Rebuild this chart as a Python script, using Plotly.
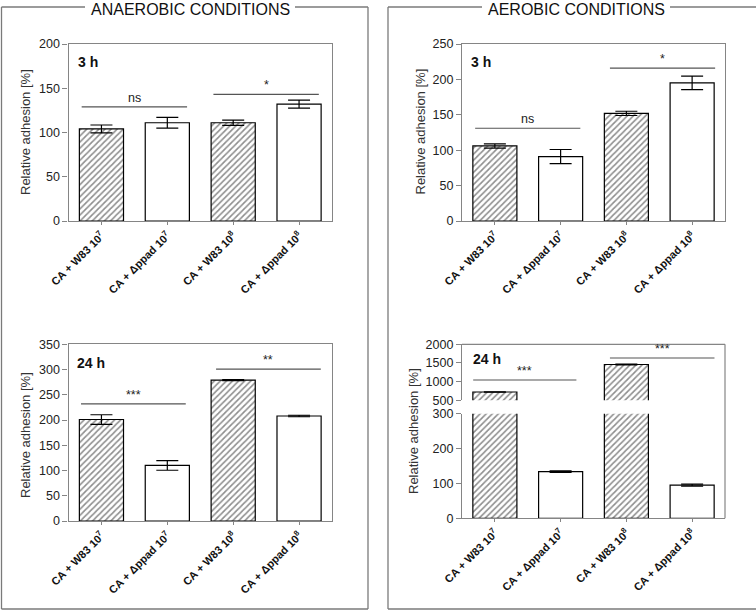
import plotly.graph_objects as go

W, H = 756, 613

groups = ["CA + W83 10<sup>7</sup>", "CA + Δppad 10<sup>7</sup>",
          "CA + W83 10<sup>8</sup>", "CA + Δppad 10<sup>8</sup>"]

# mean / error, in the order of groups
anaer_3h = [104, 111, 111, 132]
anaer_3h_err = [4.5, 6, 3, 4.5]
aer_3h = [106, 91, 152, 195]
aer_3h_err = [3, 10, 3, 9.5]
anaer_24h = [201, 110, 279, 208]
anaer_24h_err = [9.5, 9.5, 1, 1.5]
aer_24h = [722, 134, 1459, 95]
aer_24h_err = [6, 2, 12, 3]

# significance bars: from, to, height, label
sig_anaer_3h = [(-0.3, 1.3, 129, "ns"), (1.7, 3.3, 143, "*")]
sig_aer_3h = [(-0.3, 1.3, 131, "ns"), (1.75, 3.35, 216, "*")]
sig_anaer_24h = [(-0.31, 1.28, 232, "***"), (1.74, 3.33, 301, "**")]
sig_aer_24h = [(-0.33, 1.24, 1044, "***"), (1.75, 3.34, 1633, "***")]

FONT = "Arial, 'Liberation Sans', sans-serif"
AXC = "#858585"
HATCH = dict(shape="/", fgcolor="#1e1e1e", bgcolor="white", size=4.3, solidity=0.38)


def px(x):
    return x / W


def py(y):
    return 1 - y / H


fig = go.Figure()


def add_bars(vals, errs, xa, ya, hatched_err=True, plain_err=True):
    hx = [0, 2]
    wx = [1, 3]
    fig.add_trace(go.Bar(
        x=hx, y=[vals[i] for i in hx], width=0.67, xaxis=xa, yaxis=ya,
        marker=dict(color="white", pattern=HATCH, line=dict(color="black", width=1.2)),
        error_y=dict(type="data", array=[errs[i] for i in hx], color="black",
                     thickness=1.2, width=11, visible=hatched_err),
        showlegend=False))
    fig.add_trace(go.Bar(
        x=wx, y=[vals[i] for i in wx], width=0.67, xaxis=xa, yaxis=ya,
        marker=dict(color="white", line=dict(color="black", width=1.2)),
        error_y=dict(type="data", array=[errs[i] for i in wx], color="black",
                     thickness=1.2, width=11, visible=plain_err),
        showlegend=False))


def add_sig(sigs, xa, ya):
    for x0, x1, yv, lab in sigs:
        fig.add_trace(go.Scatter(x=[x0, x1], y=[yv, yv], mode="lines", xaxis=xa, yaxis=ya,
                                 line=dict(color="#555", width=1.2), showlegend=False,
                                 hoverinfo="skip"))
        fig.add_annotation(x=(x0 + x1) / 2, y=yv, xref=xa, yref=ya, text=lab,
                           showarrow=False, xanchor="center", yanchor="bottom",
                           font=dict(size=12.5, color="#222", family=FONT))


add_bars(anaer_3h, anaer_3h_err, "x", "y")
add_sig(sig_anaer_3h, "x", "y")
add_bars(aer_3h, aer_3h_err, "x2", "y2")
add_sig(sig_aer_3h, "x2", "y2")
add_bars(anaer_24h, anaer_24h_err, "x3", "y3")
add_sig(sig_anaer_24h, "x3", "y3")
# broken axis: lower part 0-300, upper part 500-2000
add_bars(aer_24h, aer_24h_err, "x4", "y4", hatched_err=False)
add_bars(aer_24h, aer_24h_err, "x5", "y5", plain_err=False)
add_sig(sig_aer_24h, "x5", "y5")

xcommon = dict(range=[-0.5, 3.5], tickvals=[0, 1, 2, 3], ticktext=groups, tickangle=-45,
               tickfont=dict(size=11, color="#111", family=FONT, weight="bold"),
               ticks="outside", ticklen=3, tickcolor=AXC, showline=True, linecolor=AXC,
               linewidth=1.2, showgrid=False, zeroline=False, mirror=True, fixedrange=True,
               automargin=False)
ycommon = dict(ticks="outside", ticklen=5, tickcolor=AXC, showline=True, linecolor=AXC,
               linewidth=1.2, showgrid=False, zeroline=False, mirror=True, automargin=False,
               tickfont=dict(size=12.5, color="#222", family=FONT))

L1, R1 = 68.5, 332
L2, R2 = 462, 725
T1, B1 = 44, 221
T2, B2 = 344.3, 521
BRlow = (413.7, 518.3)
BRup = (344.3, 400.3)

fig.update_layout(
    xaxis=dict(xcommon, domain=[px(L1), px(R1)], anchor="y"),
    yaxis=dict(ycommon, domain=[py(B1), py(T1)], anchor="x", range=[0, 200],
               tickvals=[0, 50, 100, 150, 200]),
    xaxis2=dict(xcommon, domain=[px(L2), px(R2)], anchor="y2"),
    yaxis2=dict(ycommon, domain=[py(B1), py(T1)], anchor="x2", range=[0, 250],
                tickvals=[0, 50, 100, 150, 200, 250]),
    xaxis3=dict(xcommon, domain=[px(L1), px(R1)], anchor="y3"),
    yaxis3=dict(ycommon, domain=[py(B2), py(T2)], anchor="x3", range=[0, 350],
                tickvals=[0, 50, 100, 150, 200, 250, 300, 350]),
    xaxis4=dict(xcommon, domain=[px(L2), px(R2)], anchor="y4", mirror=False),
    yaxis4=dict(ycommon, domain=[py(BRlow[1]), py(BRlow[0])], anchor="x4", range=[0, 300],
                tickvals=[0, 100, 200, 300], mirror=False),
    xaxis5=dict(domain=[px(L2), px(R2)], anchor="y5", range=[-0.5, 3.5], visible=False,
                fixedrange=True),
    yaxis5=dict(ycommon, domain=[py(BRup[1]), py(BRup[0])], anchor="x5", range=[500, 2000],
                tickvals=[500, 1000, 1500, 2000], mirror=False),
    barmode="overlay",
    showlegend=False,
    width=W, height=H,
    margin=dict(l=0, r=0, t=0, b=0, pad=0, autoexpand=False),
    paper_bgcolor="white", plot_bgcolor="white",
    font=dict(family=FONT, color="#222"),
)

# y axis titles
for xp, yp in [(25, 132), (419.5, 132), (25, 435), (413, 431)]:
    fig.add_annotation(x=px(xp), y=py(yp), xref="paper", yref="paper",
                       text="Relative adhesion [%]", textangle=-90, showarrow=False,
                       xanchor="center", yanchor="middle",
                       font=dict(size=13, color="#333", family=FONT))

# time labels
for xp, yp, lab in [(76, 62, "3 h"), (469, 62, "3 h"), (75, 363, "24 h"), (470.5, 359, "24 h")]:
    fig.add_annotation(x=px(xp), y=py(yp), xref="paper", yref="paper", text=lab,
                       xanchor="left", yanchor="middle", showarrow=False,
                       font=dict(size=14, color="#111", family=FONT, weight="bold"))

# panel titles, kept just inside the top edge
for xp, lab in [(190, "ANAEROBIC CONDITIONS"), (576, "AEROBIC CONDITIONS")]:
    fig.add_annotation(x=px(xp), y=1, xref="paper", yref="paper", text=lab,
                       xanchor="center", yanchor="top", borderpad=0, showarrow=False,
                       font=dict(size=16, color="#111", family=FONT))


def seg(x0, y0, x1, y1, color="#7a7a7a", width=1.3):
    fig.add_shape(type="line", xref="paper", yref="paper", x0=px(x0), y0=py(y0),
                  x1=px(x1), y1=py(y1), line=dict(color=color, width=width))


# outer frames with the title breaking the top edge
seg(1.5, 7, 1.5, 609)
seg(1.5, 609, 368, 609)
seg(368, 7, 368, 609)
seg(1.5, 7, 85, 7)
seg(295, 7, 368, 7)
seg(388, 7, 388, 609)
seg(388, 609, 756, 609)
seg(388, 7, 482, 7)
seg(670, 7, 756, 7)

# top and right border of the broken-axis plot
seg(L2, BRup[0], R2, BRup[0], AXC, 1.2)
seg(R2, BRup[0], R2, BRlow[1], AXC, 1.2)

# page body has a default margin; drop it so the figure sits at the window origin
fig.write_html("out.html", config={"displayModeBar": False},
               post_script="document.body.style.margin='0px';")
